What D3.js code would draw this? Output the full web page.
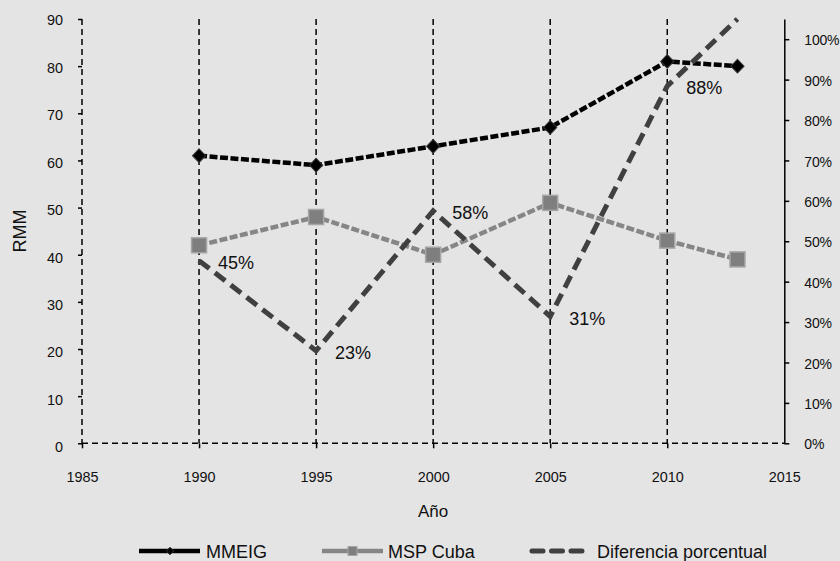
<!DOCTYPE html>
<html>
<head>
<meta charset="utf-8">
<script src="https://cdn.jsdelivr.net/npm/d3@7"></script>
<style>
  html, body { margin: 0; padding: 0; background: #e4e4e4; }
  svg { display: block; }
  text { font-family: "Liberation Sans", Arial, sans-serif; fill: #111; }
</style>
</head>
<body>
<svg id="chart" width="840" height="561"></svg>
<script>
// ---- data ----
const years = [1990, 1995, 2000, 2005, 2010, 2013];
const mmeig = [61, 59, 63, 67, 81, 80];
const mspCuba = [42, 48, 40, 51, 43, 39];
const diferencia = [0.452, 0.229, 0.575, 0.314, 0.884, 1.05];
const diferenciaLabels = ["45%", "23%", "58%", "31%", "88%", ""];
const seriesNames = ["MMEIG", "MSP Cuba", "Diferencia porcentual"];
const xTicks = [1985, 1990, 1995, 2000, 2005, 2010, 2015];
const yLeftTicks = [0, 10, 20, 30, 40, 50, 60, 70, 80, 90];
const yRightTicks = [0, 0.1, 0.2, 0.3, 0.4, 0.5, 0.6, 0.7, 0.8, 0.9, 1.0];
const xTitle = "Año";
const yTitle = "RMM";

// ---- layout ----
const svg = d3.select("#chart");
const pLeft = 82, pRight = 784.3, pTop = 19, pBottom = 443.3;

const x = d3.scaleLinear().domain([1985, 2015]).range([pLeft, pRight]);
const yL = d3.scaleLinear().domain([0, 90]).range([pBottom, pTop]);
const yR = d3.scaleLinear().domain([0, 1.05]).range([pBottom, pTop]);

svg.append("rect").attr("width", 840).attr("height", 561).attr("fill", "#e4e4e4");

const gridDash = "6,4";

// vertical dashed gridlines
svg.append("g").selectAll("line")
  .data(xTicks.filter(t => t > 1985 && t < 2015))
  .join("line")
  .attr("x1", d => x(d)).attr("x2", d => x(d))
  .attr("y1", pTop).attr("y2", pBottom)
  .attr("stroke", "#000").attr("stroke-width", 1.5)
  .attr("stroke-dasharray", gridDash);

// left axis (dashed line)
svg.append("line")
  .attr("x1", pLeft).attr("x2", pLeft).attr("y1", pTop).attr("y2", pBottom)
  .attr("stroke", "#000").attr("stroke-width", 1.5).attr("stroke-dasharray", gridDash);
// bottom axis (dashed line)
svg.append("line")
  .attr("x1", pLeft).attr("x2", pRight).attr("y1", pBottom).attr("y2", pBottom)
  .attr("stroke", "#000").attr("stroke-width", 1.5).attr("stroke-dasharray", gridDash);

// left ticks + labels
const gL = svg.append("g").attr("transform", `translate(${pLeft},0)`);
const axL = d3.axisLeft(yL).tickValues(yLeftTicks).tickSize(4).tickPadding(15);
gL.call(axL);
gL.select(".domain").remove();
gL.selectAll(".tick line").attr("stroke", "#000").attr("stroke-width", 1.5);
gL.selectAll(".tick text")
  .attr("font-size", 14.4)
  .attr("font-family", "Liberation Sans, Arial, sans-serif")
  .attr("fill", "#111")
  .attr("dy", (d) => (0.32 + 3 * (1 - d / 90) / 14.4 + 1 / 14.4) + "em");

// bottom ticks + labels
const gB = svg.append("g").attr("transform", `translate(0,${pBottom})`);
const axB = d3.axisBottom(x).tickValues(xTicks).tickFormat(d3.format("d")).tickSize(5).tickPadding(23);
gB.call(axB);
gB.select(".domain").remove();
gB.selectAll(".tick line").attr("stroke", "#000").attr("stroke-width", 1.5)
  .attr("display", d => d === 2015 ? "none" : null);
gB.selectAll(".tick text")
  .attr("font-size", 14.4)
  .attr("font-family", "Liberation Sans, Arial, sans-serif")
  .attr("fill", "#111");

// right axis (solid)
const gR = svg.append("g").attr("transform", `translate(${pRight},0)`);
const axR = d3.axisRight(yR).tickValues(yRightTicks).tickFormat(d3.format(".0%")).tickSize(5).tickPadding(15).tickSizeOuter(0);
gR.call(axR);
gR.select(".domain").attr("stroke", "#000").attr("stroke-width", 1.5);
gR.selectAll(".tick line").attr("stroke", "#000").attr("stroke-width", 1.5);
gR.selectAll(".tick text")
  .attr("font-size", 14)
  .attr("font-family", "Liberation Sans, Arial, sans-serif")
  .attr("fill", "#111")
  .attr("letter-spacing", "-0.2")
  .attr("dy", "0.4em");

// axis titles
svg.append("text")
  .attr("x", (pLeft + pRight) / 2).attr("y", 517)
  .attr("text-anchor", "middle").attr("font-size", 17)
  .text(xTitle);
svg.append("text")
  .attr("transform", "translate(26,231) rotate(-90)")
  .attr("text-anchor", "middle").attr("font-size", 18)
  .text(yTitle);

// ---- series ----
const idx = d3.range(years.length);

const lineL = (vals) => d3.line().x(i => x(years[i])).y(i => yL(vals[i]));
const lineR = d3.line().x(i => x(years[i])).y(i => yR(diferencia[i]));

// MMEIG
svg.append("path")
  .attr("d", lineL(mmeig)(idx))
  .attr("fill", "none").attr("stroke", "#000").attr("stroke-width", 4.5)
  .attr("stroke-dasharray", "8,2.5");
svg.append("g").selectAll("path")
  .data(idx).join("path")
  .attr("d", d3.symbol().type(d3.symbolDiamond2).size(110))
  .attr("transform", i => `translate(${x(years[i])},${yL(mmeig[i])}) scale(1,1.05)`)
  .attr("fill", "#000").attr("stroke", "#333").attr("stroke-width", 1);

// MSP Cuba
svg.append("path")
  .attr("d", lineL(mspCuba)(idx))
  .attr("fill", "none").attr("stroke", "#868686").attr("stroke-width", 4.5)
  .attr("stroke-dasharray", "8,2.5");
svg.append("g").selectAll("rect")
  .data(idx).join("rect")
  .attr("x", i => x(years[i]) - 7.5).attr("y", i => yL(mspCuba[i]) - 7.5)
  .attr("width", 15).attr("height", 15)
  .attr("fill", "#7f7f7f").attr("stroke", "#a6a6a6").attr("stroke-width", 1.5);

// Diferencia porcentual
svg.append("path")
  .attr("d", lineR(idx))
  .attr("fill", "none").attr("stroke", "#404040").attr("stroke-width", 5)
  .attr("stroke-dasharray", "13,7");

// data labels
svg.append("g").selectAll("text")
  .data(idx.filter(i => diferenciaLabels[i] !== "")).join("text")
  .attr("x", i => x(years[i]) + 19)
  .attr("y", i => yR(diferencia[i]) + 2)
  .attr("dy", "0.35em")
  .attr("font-size", 18)
  .text(i => diferenciaLabels[i]);

// ---- legend ----
const lg = svg.append("g");
const ly = 551;
// MMEIG
lg.append("line").attr("x1", 139).attr("x2", 200).attr("y1", ly).attr("y2", ly)
  .attr("stroke", "#000").attr("stroke-width", 4.5);
lg.append("path").attr("d", d3.symbol().type(d3.symbolDiamond2).size(36))
  .attr("transform", `translate(170,${ly})`).attr("fill", "#000").attr("stroke", "#333").attr("stroke-width", 1);
lg.append("text").attr("x", 206).attr("y", ly + 7).attr("font-size", 18).text(seriesNames[0]);
// MSP Cuba
lg.append("line").attr("x1", 322).attr("x2", 383).attr("y1", ly).attr("y2", ly)
  .attr("stroke", "#868686").attr("stroke-width", 4.5);
lg.append("rect").attr("x", 348).attr("y", ly - 4.5).attr("width", 9).attr("height", 9)
  .attr("fill", "#7f7f7f").attr("stroke", "#a6a6a6").attr("stroke-width", 1);
lg.append("text").attr("x", 388).attr("y", ly + 7).attr("font-size", 18).text(seriesNames[1]);
// Diferencia
lg.append("line").attr("x1", 532).attr("x2", 582).attr("y1", ly).attr("y2", ly)
  .attr("stroke", "#404040").attr("stroke-width", 5).attr("stroke-linecap", "round")
  .attr("stroke-dasharray", "11,8.5");
lg.append("text").attr("x", 597).attr("y", ly + 7).attr("font-size", 18).text(seriesNames[2]);
</script>
</body>
</html>
